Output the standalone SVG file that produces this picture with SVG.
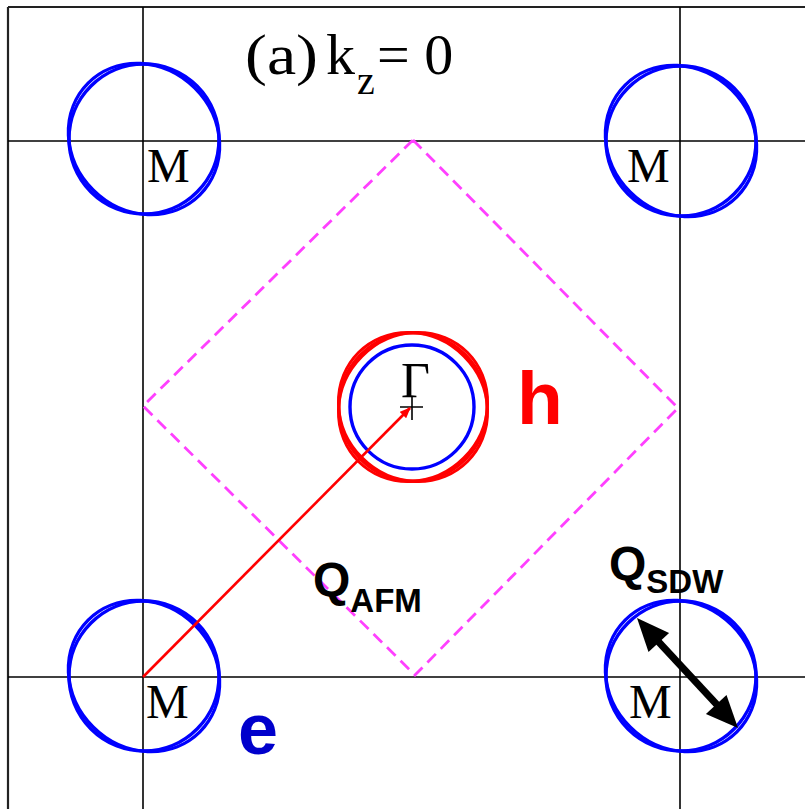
<svg xmlns="http://www.w3.org/2000/svg" width="805" height="809" viewBox="0 0 805 809">
<style>
.grid{stroke:#000;stroke-width:1.6;fill:none}
.frame{stroke:#222;stroke-width:2.2;fill:none}
.fsb{fill:none;stroke:#0000ff;stroke-width:3.4}
.fsr{fill:none;stroke:#ff0000;stroke-width:3}
.lbl{font-family:"Liberation Serif","Times New Roman",serif;fill:#000}
.bold{font-family:"Liberation Sans",Arial,sans-serif;font-weight:bold}
</style>
<defs>
<marker id="redhead" markerWidth="11" markerHeight="9" refX="10" refY="4.5" orient="auto" markerUnits="userSpaceOnUse">
<path d="M0,0 L11,4.5 L0,9 Z" fill="#ff0000"/>
</marker>
</defs>
<rect width="805" height="809" fill="#fff"/>
<g id="frame">
<line class="frame" x1="8" y1="7" x2="805" y2="7"/>
<line class="frame" x1="8" y1="7" x2="8" y2="809"/>
<line class="grid" x1="143" y1="7" x2="143" y2="809"/>
<line class="grid" x1="680" y1="7" x2="680" y2="809"/>
<line class="grid" x1="8" y1="141" x2="805" y2="141"/>
<line class="grid" x1="8" y1="677" x2="805" y2="677"/>
</g>
<g id="title">
<text class="lbl" x="245" y="74" font-size="58" textLength="73" lengthAdjust="spacingAndGlyphs">(a)</text>
<text class="lbl" x="326" y="74" font-size="58">k</text>
<text class="lbl" x="357" y="94" font-size="40">z</text>
<text class="lbl" x="377" y="74" font-size="58">= 0</text>
</g>
<g id="bz-afm">
<polygon points="413,140 678,408 415,675 143,406" fill="none" stroke="#ff40ff" stroke-width="2.8" stroke-dasharray="12,7"/>
</g>
<g id="M-top-left">
<circle class="fsb" cx="144" cy="139" r="75"/>
<ellipse class="fsb" cx="144" cy="139" rx="79" ry="72" transform="rotate(45 144 139)" stroke-width="2.6"/>
<text class="lbl" x="147" y="182" font-size="48">M</text>
</g>
<g id="M-top-right">
<circle class="fsb" cx="681" cy="141" r="75"/>
<ellipse class="fsb" cx="681" cy="141" rx="79" ry="72" transform="rotate(45 681 141)" stroke-width="2.6"/>
<text class="lbl" x="627" y="182" font-size="48">M</text>
</g>
<g id="M-bottom-left">
<circle class="fsb" cx="144" cy="676" r="75"/>
<ellipse class="fsb" cx="144" cy="676" rx="79" ry="72" transform="rotate(45 144 676)" stroke-width="2.6"/>
<text class="lbl" x="146" y="718" font-size="48">M</text>
</g>
<g id="M-bottom-right">
<circle class="fsb" cx="681" cy="676" r="75"/>
<ellipse class="fsb" cx="681" cy="676" rx="79" ry="72" transform="rotate(45 681 676)" stroke-width="2.6"/>
<text class="lbl" x="629" y="718" font-size="48" fill="#444">M</text>
</g>
<g id="Gamma">
<circle class="fsr" cx="413" cy="407" r="74" stroke-width="5"/>
<ellipse class="fsr" cx="413" cy="407" rx="77" ry="72" transform="rotate(45 413 407)" stroke-width="3"/>
<ellipse class="fsr" cx="413" cy="407" rx="77" ry="72" transform="rotate(-45 413 407)" stroke-width="2.5"/>
<circle class="fsb" cx="412" cy="407" r="62" stroke-width="3.6"/>
<text class="lbl" x="401" y="397" font-size="50">Γ</text>
<path d="M400,407 H423 M412,397 V420" stroke="#000" stroke-width="1.6" fill="none"/>
</g>
<g id="label-h"><text class="bold" x="517" y="424" font-size="75" fill="#ff0000">h</text></g>
<g id="label-e"><text class="bold" x="238" y="754" font-size="72" fill="#0000cc">e</text></g>
<g id="label-QAFM"><text class="bold" x="313" y="596" font-size="48" fill="#000">Q<tspan font-size="33" dy="16">AFM</tspan></text></g>
<g id="label-QSDW"><text class="bold" x="609" y="580" font-size="48" fill="#000">Q<tspan font-size="33" dy="13">SDW</tspan></text></g>
<g id="connectors">
<line x1="143" y1="677" x2="410" y2="408" stroke="#ff0000" stroke-width="2.6" marker-end="url(#redhead)"/>
<line x1="655" y1="638" x2="720" y2="708" stroke="#000" stroke-width="7"/>
<polygon points="637,618 648.5,652 669.1,633" fill="#000"/>
<polygon points="738,728 705.9,714 726.5,695" fill="#000"/>
</g>
</svg>
